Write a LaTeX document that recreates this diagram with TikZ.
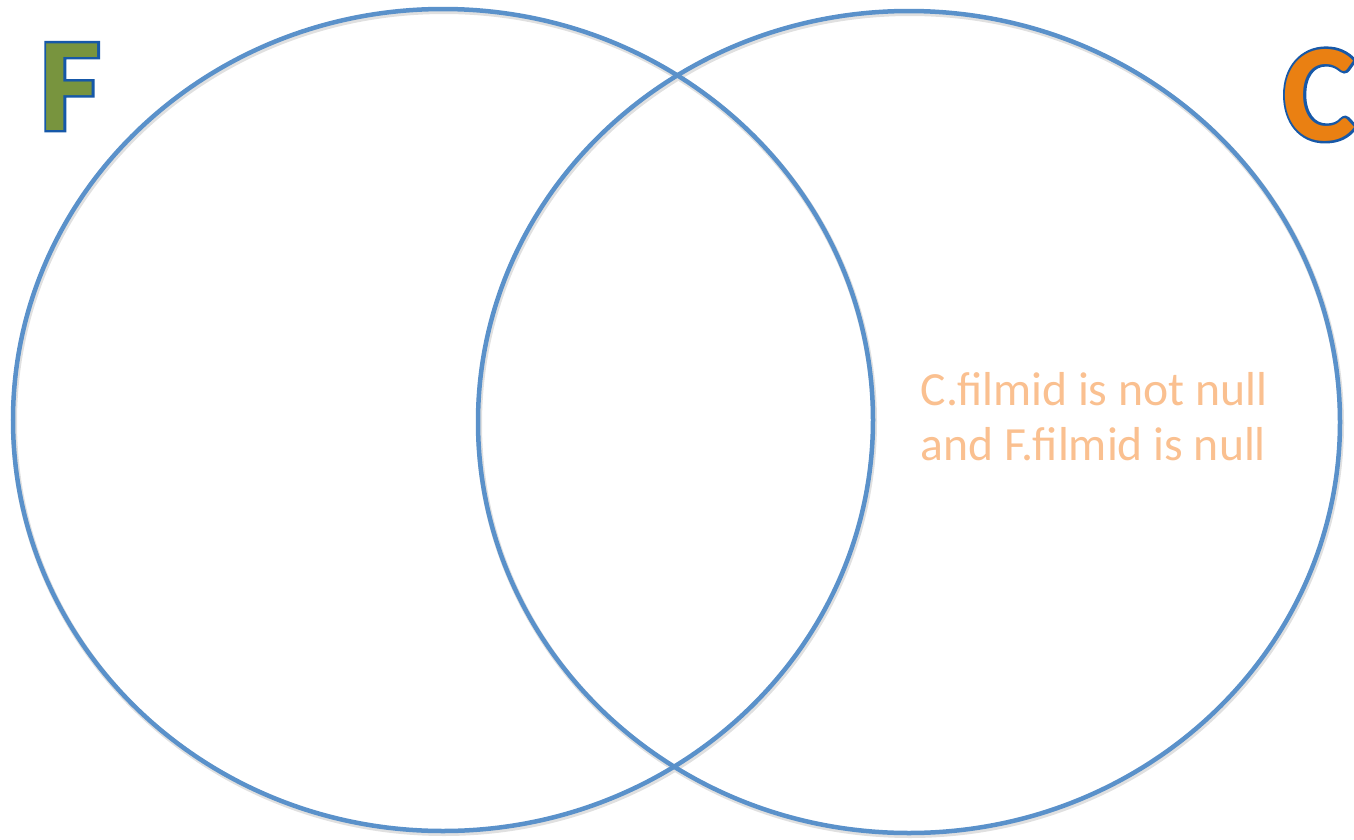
\documentclass[tikz,border=0pt]{standalone}
\usepackage{fontspec}
\setmainfont{Carlito}
\newfontfamily\letterfont{Carlito}[FakeBold=0]
\newfontfamily\rimfont{Carlito Bold}[FakeBold=3.6]
\usepackage{tikz}
\definecolor{ringBlue}{RGB}{90, 145, 202}
\definecolor{rimBlue}{RGB}{22, 88, 168}
\definecolor{letterGreen}{RGB}{120, 148, 62}
\definecolor{letterOrange}{RGB}{234, 128, 18}
\definecolor{noteOrange}{RGB}{250, 192, 144}

\begin{document}
\begin{tikzpicture}[x=0.01cm, y=-0.01cm]
      \useasboundingbox (0,0) rectangle (1354,839);
      % soft shadows
      \draw[black!12, line width=0.06cm] (444,422) ellipse (430 and 411);
      \draw[black!12, line width=0.06cm] (910,424) ellipse (431 and 411);
      % the two sets
      \draw[ringBlue, line width=0.045cm] (443,420) ellipse (430 and 411);
      \draw[ringBlue, line width=0.045cm] (909,422) ellipse (431 and 411);
      % set names: blue rim under the coloured letter
      \node[anchor=base west, inner sep=0pt, text=rimBlue, font=\fontsize{38}{40}\rimfont] (setFrim) at (39,130) {F};
      \node[anchor=base west, inner sep=0pt, text=letterGreen, font=\fontsize{38}{40}\letterfont\bfseries] (setF) at (39,130) {F};
      \node[anchor=base west, inner sep=0pt, text=rimBlue, font=\fontsize{39.5}{42}\rimfont] (setCrim) at (1282,140) {C};
      \node[anchor=base west, inner sep=0pt, text=letterOrange, font=\fontsize{39.5}{42}\letterfont\bfseries] (setC) at (1282,140) {C};
      % region note
      \node[anchor=base west, inner sep=0pt, text=noteOrange, font=\fontsize{13.55}{16}\selectfont] (noteA) at (920,405) {C.filmid is not null};
      \node[anchor=base west, inner sep=0pt, text=noteOrange, font=\fontsize{13.55}{16}\selectfont] (noteB) at (920,460) {and F.filmid is null};
    \end{tikzpicture}
\end{document}
